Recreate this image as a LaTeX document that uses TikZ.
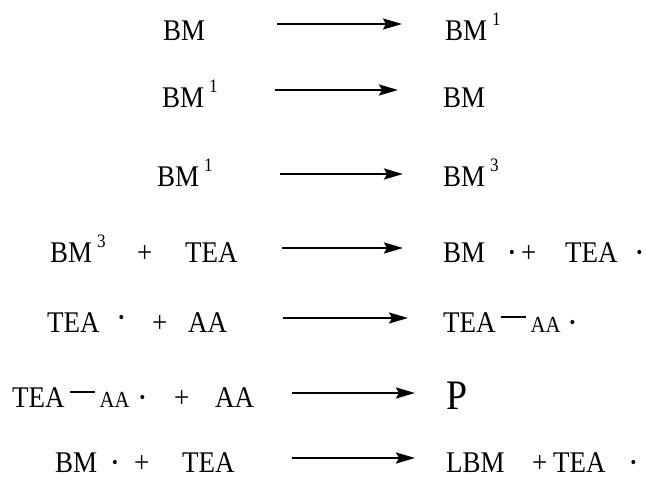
\documentclass[tikz,border=0pt]{standalone}
\usepackage{fontspec}
\setmainfont[FakeStretch=0.9]{Liberation Serif}
\usetikzlibrary{arrows.meta}

\newcommand{\upidx}[1]{\hspace{5pt}\raisebox{15pt}{\fontsize{19}{19}\selectfont #1}}
\newcommand{\bond}{\hspace{5pt}\rule[14pt]{25pt}{2pt}\hspace{5pt}}
\newcommand{\smallaa}{{\fontsize{23}{23}\selectfont AA}}
\newcommand{\rad}{\raisebox{4pt}{\fontsize{18}{18}\selectfont\textbullet}}

\begin{document}
\begin{tikzpicture}[
  x=1pt, y=-1pt,
  font=\fontsize{30}{32}\selectfont,
  sp/.style={anchor=base west, inner sep=0pt, text depth=0pt},
  rx/.style={line width=2.3pt, -{Stealth[length=19pt,width=11pt,inset=3pt]}}
]
\useasboundingbox (0,0) rectangle (646,479);

% row 1
\node[sp] (l1) at (163,40) {BM};
\node[sp] (r1) at (445,40) {BM\upidx{1}};
\coordinate (s1) at (277,24);
\coordinate (e1) at (402,24);

% row 2
\node[sp] (l2) at (162,107) {BM\upidx{1}};
\node[sp] (r2) at (443,107) {BM};
\coordinate (s2) at (275,90);
\coordinate (e2) at (398,90);

% row 3
\node[sp] (l3) at (157,186) {BM\upidx{1}};
\node[sp] (r3) at (443,186) {BM\upidx{3}};
\coordinate (s3) at (280,174);
\coordinate (e3) at (403,174);

% row 4
\node[sp] (l4a) at (50,262) {BM\upidx{3}};
\node[sp] (l4p) at (137,262) {+};
\node[sp] (l4b) at (185,262) {TEA};
\node[sp] (r4a) at (443,262) {BM\hspace{24pt}\rad};
\node[sp] (r4p) at (521,262) {+};
\node[sp] (r4b) at (565,262) {TEA\hspace{19pt}\rad};
\coordinate (s4) at (282,248);
\coordinate (e4) at (403,248);

% row 5
\node[sp] (l5a) at (47,332) {TEA\hspace{19pt}\raisebox{5pt}{\rad}};
\node[sp] (l5p) at (152,332) {+};
\node[sp] (l5b) at (188,332) {AA};
\node[sp] (r5) at (443,332) {TEA\bond\smallaa\hspace{9pt}\rad};
\coordinate (s5) at (283,318);
\coordinate (e5) at (408,318);

% row 6
\node[sp] (l6a) at (12,407) {TEA\bond\smallaa\hspace{10pt}\rad};
\node[sp] (l6p) at (174,407) {+};
\node[sp] (l6b) at (215,407) {AA};
\node[sp, font=\fontsize{42}{44}\selectfont] (r6) at (446,409) {P};
\coordinate (s6) at (292,393);
\coordinate (e6) at (415,393);

% row 7
\node[sp] (l7a) at (55,472) {BM\hspace{15pt}\rad};
\node[sp] (l7p) at (134,472) {+};
\node[sp] (l7b) at (182,472) {TEA};
\node[sp] (r7a) at (446,472) {LBM};
\node[sp] (r7p) at (532,472) {+};
\node[sp] (r7b) at (553,472) {TEA\hspace{25pt}\rad};
\coordinate (s7) at (292,458);
\coordinate (e7) at (415,458);

% arrows
\draw[rx] (s1) -- (e1);
\draw[rx] (s2) -- (e2);
\draw[rx] (s3) -- (e3);
\draw[rx] (s4) -- (e4);
\draw[rx] (s5) -- (e5);
\draw[rx] (s6) -- (e6);
\draw[rx] (s7) -- (e7);
\end{tikzpicture}
\end{document}
